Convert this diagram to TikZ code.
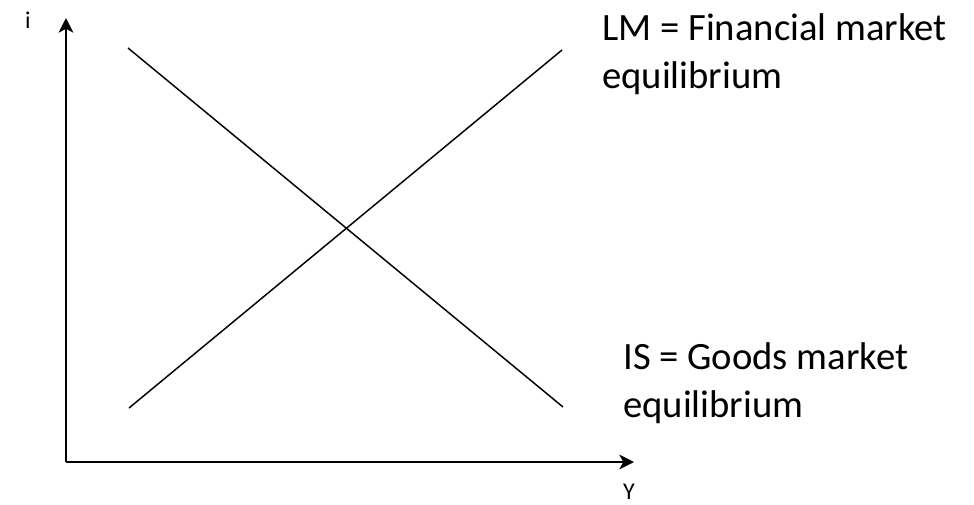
\documentclass[tikz,border=0pt]{standalone}
\usepackage{fontspec}
\setmainfont{Carlito}
\usetikzlibrary{arrows.meta}

\begin{document}
\begin{tikzpicture}[x=0.75pt,y=-0.75pt,
    axis/.style={line width=1.2pt, -{Stealth[length=11pt,width=11pt,inset=3pt]}},
    curve/.style={line width=1.1pt},
    biglabel/.style={anchor=base west, inner sep=0pt, align=left,
        font=\fontsize{29}{36}\selectfont},
    axlabel/.style={inner sep=0pt, font=\fontsize{18}{20}\selectfont}]
    \useasboundingbox (0,0) rectangle (974,504);

    % Axes
    \coordinate (O) at (66,462);
    \coordinate (Itop) at (66,18);
    \coordinate (Yend) at (634,462);
    \draw[axis] (O) -- (Itop);
    \draw[axis] (O) -- (Yend);
    \node[axlabel, anchor=base] (ilab) at (28,28) {i};
    \node[axlabel, anchor=base] (ylab) at (629,499) {Y};

    % IS curve (falling) and LM curve (rising)
    \coordinate (IS1) at (128,48);
    \coordinate (IS2) at (563,407);
    \coordinate (LM1) at (129,408);
    \coordinate (LM2) at (562,50);
    \draw[curve] (IS1) -- (IS2);
    \draw[curve] (LM1) -- (LM2);

    % Labels (base anchor sits on the last line)
    \node[biglabel] (lmlab) at (602,88) {LM = Financial market\\equilibrium};
    \node[biglabel] (islab) at (623,417) {IS = Goods market\\equilibrium};
\end{tikzpicture}
\end{document}
